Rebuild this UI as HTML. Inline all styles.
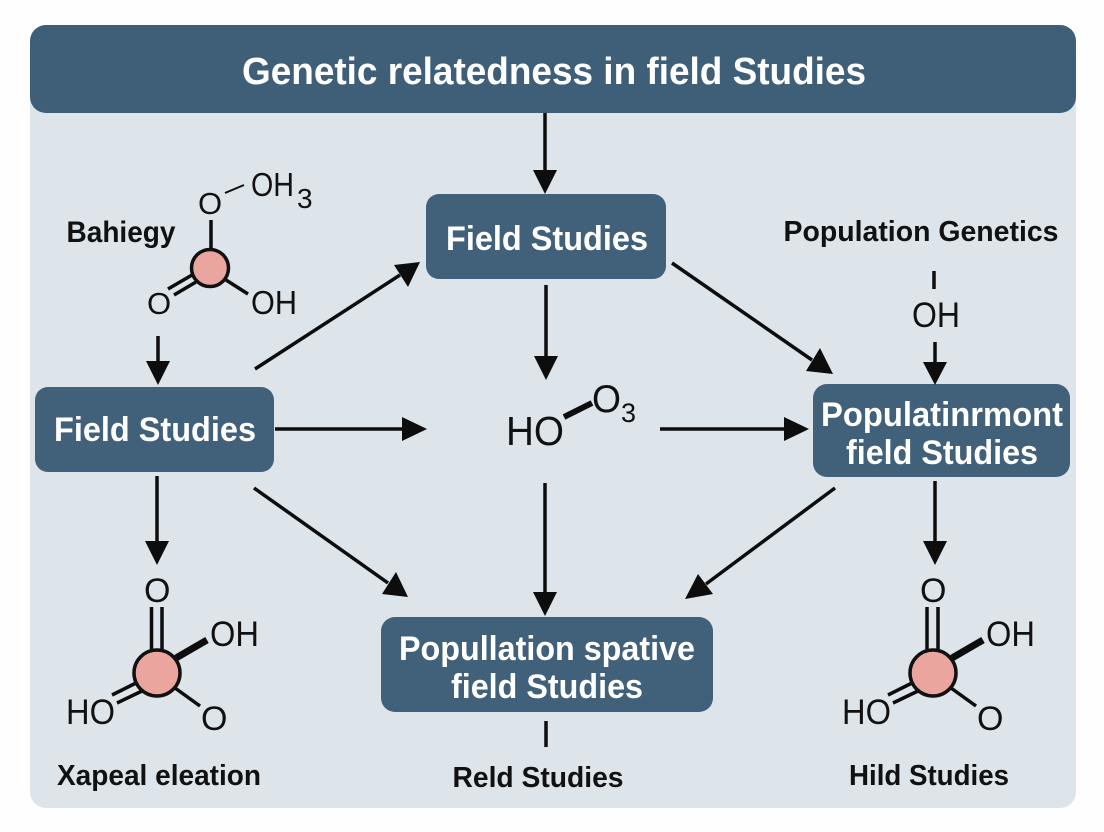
<!DOCTYPE html>
<html><head><meta charset="utf-8"><style>
html,body{margin:0;padding:0;background:#fff}
svg{display:block}
.b{font-family:"Liberation Sans",sans-serif;font-weight:700;text-anchor:middle}
.w{fill:#fff}
.k{fill:#111}
.c{font-family:"Liberation Sans",sans-serif;fill:#111}
.l{stroke:#0d0d0d;stroke-width:3.5;fill:none}
.t{stroke:#0d0d0d;stroke-width:2;fill:none}
.a{fill:#0d0d0d}
.n{fill:#416079}
.p{fill:#eba59f;stroke:#111;stroke-width:3.5}
</style></head><body>
<svg width="1104" height="832" viewBox="0 0 1104 832" xmlns="http://www.w3.org/2000/svg">
<rect width="1104" height="832" fill="#fefefe"/>
<rect x="30" y="25" width="1046" height="783" rx="16" fill="#dde4ea"/>
<rect x="30" y="25" width="1046" height="88" rx="16" fill="#3f5f79"/>
<text class="b w" x="554" y="84" font-size="38" textLength="624" lengthAdjust="spacingAndGlyphs">Genetic relatedness in field Studies</text>

<!-- boxes -->
<rect class="n" x="426" y="194" width="240" height="85" rx="13"/>
<text class="b w" x="547" y="250" font-size="34" textLength="202" lengthAdjust="spacingAndGlyphs">Field Studies</text>
<rect class="n" x="35" y="387" width="239" height="85" rx="13"/>
<text class="b w" x="155" y="441" font-size="34" textLength="202" lengthAdjust="spacingAndGlyphs">Field Studies</text>
<rect class="n" x="813" y="384" width="257" height="93" rx="14"/>
<text class="b w" x="942" y="426" font-size="34" textLength="242" lengthAdjust="spacingAndGlyphs">Populatinrmont</text>
<text class="b w" x="942" y="464" font-size="34" textLength="192" lengthAdjust="spacingAndGlyphs">field Studies</text>
<rect class="n" x="381" y="617" width="332" height="95" rx="14"/>
<text class="b w" x="547" y="660" font-size="34" textLength="296" lengthAdjust="spacingAndGlyphs">Popullation spative</text>
<text class="b w" x="547" y="698" font-size="34" textLength="192" lengthAdjust="spacingAndGlyphs">field Studies</text>

<!-- labels -->
<text class="b k" x="121" y="242" font-size="30" textLength="109" lengthAdjust="spacingAndGlyphs">Bahiegy</text>
<text class="b k" x="921" y="241" font-size="29" textLength="275" lengthAdjust="spacingAndGlyphs">Population Genetics</text>
<text class="b k" x="159" y="785" font-size="29" textLength="204" lengthAdjust="spacingAndGlyphs">Xapeal eleation</text>
<text class="b k" x="538" y="787" font-size="29" textLength="171" lengthAdjust="spacingAndGlyphs">Reld Studies</text>
<text class="b k" x="929" y="785" font-size="29" textLength="160" lengthAdjust="spacingAndGlyphs">Hild Studies</text>

<!-- connectors -->
<g class="l">
<line x1="545" y1="113" x2="545" y2="172"/>
<line x1="255" y1="369" x2="400" y2="275"/>
<line x1="546" y1="285" x2="546" y2="358"/>
<line x1="672" y1="263" x2="812" y2="360"/>
<line x1="158" y1="336" x2="158" y2="364"/>
<line x1="934" y1="271" x2="934" y2="289"/>
<line x1="935" y1="342" x2="935" y2="364"/>
<line x1="275" y1="429" x2="404" y2="429"/>
<line x1="660" y1="429" x2="786" y2="429"/>
<line x1="157" y1="476" x2="157" y2="544"/>
<line x1="254" y1="488" x2="388" y2="583"/>
<line x1="545" y1="483" x2="545" y2="594"/>
<line x1="835" y1="488" x2="706" y2="584"/>
<line x1="935" y1="481" x2="935" y2="544"/>
<line x1="546" y1="721" x2="546" y2="747"/>
</g>
<g class="a">
<polygon points="533,170 557,170 545,194"/>
<polygon points="420,262 394,265 408,287"/>
<polygon points="534,356 558,356 546,380"/>
<polygon points="833,374 806,371 820,348"/>
<polygon points="146,361 170,361 158,385"/>
<polygon points="923,362 947,362 935,385"/>
<polygon points="402,417 402,441 427,429"/>
<polygon points="784,417 784,441 809,429"/>
<polygon points="145,541 169,541 157,565"/>
<polygon points="408,597 382,594 396,572"/>
<polygon points="533,592 557,592 545,616"/>
<polygon points="685,599 698,574 713,594"/>
<polygon points="923,541 947,541 935,565"/>
</g>

<!-- top-left molecule -->
<text class="c" x="198" y="214" font-size="31">O</text>
<text class="c" x="251" y="196" font-size="33" textLength="43" lengthAdjust="spacingAndGlyphs">OH</text>
<text class="c" x="297" y="208" font-size="28">3</text>
<text class="c" x="147" y="314" font-size="31">O</text>
<text class="c" x="251" y="314" font-size="33" textLength="46" lengthAdjust="spacingAndGlyphs">OH</text>
<line class="t" x1="225" y1="193" x2="244" y2="185"/>
<line class="l" x1="211" y1="220" x2="211" y2="250"/>
<line class="l" x1="168" y1="289" x2="192" y2="275"/>
<line class="l" x1="174" y1="295" x2="196" y2="282"/>
<line class="l" x1="226" y1="280" x2="248" y2="294"/>
<circle class="p" cx="210" cy="268" r="18.5"/>

<!-- center molecule -->
<text class="c" x="506" y="445" font-size="41" textLength="58" lengthAdjust="spacingAndGlyphs">HO</text>
<text class="c" x="592" y="412" font-size="39" textLength="29" lengthAdjust="spacingAndGlyphs">O</text>
<text class="c" x="621" y="422" font-size="27">3</text>
<line x1="564" y1="417" x2="592" y2="403" stroke="#0d0d0d" stroke-width="6"/>

<!-- OH -->
<text class="c" x="912" y="327" font-size="35" textLength="48" lengthAdjust="spacingAndGlyphs">OH</text>

<!-- bottom-left molecule -->
<text class="c" x="144" y="602" font-size="34">O</text>
<text class="c" x="210" y="646" font-size="35" textLength="49" lengthAdjust="spacingAndGlyphs">OH</text>
<text class="c" x="66" y="724" font-size="35" textLength="49" lengthAdjust="spacingAndGlyphs">HO</text>
<text class="c" x="201" y="730" font-size="34">O</text>
<line class="l" x1="151.5" y1="607" x2="151.5" y2="652"/>
<line class="l" x1="162" y1="607" x2="162" y2="652"/>
<line x1="176" y1="658" x2="207" y2="640" stroke="#0d0d0d" stroke-width="7"/>
<line class="l" x1="112" y1="695" x2="138" y2="682"/>
<line class="l" x1="117" y1="703" x2="142" y2="691"/>
<line class="l" x1="175" y1="688" x2="200" y2="706"/>
<circle class="p" cx="157" cy="673" r="23"/>

<!-- bottom-right molecule -->
<text class="c" x="920" y="602" font-size="34">O</text>
<text class="c" x="986" y="646" font-size="35" textLength="49" lengthAdjust="spacingAndGlyphs">OH</text>
<text class="c" x="842" y="724" font-size="35" textLength="49" lengthAdjust="spacingAndGlyphs">HO</text>
<text class="c" x="977" y="730" font-size="34">O</text>
<line class="l" x1="927" y1="607" x2="927" y2="652"/>
<line class="l" x1="938" y1="607" x2="938" y2="652"/>
<line x1="952" y1="658" x2="983" y2="640" stroke="#0d0d0d" stroke-width="7"/>
<line class="l" x1="888" y1="695" x2="914" y2="682"/>
<line class="l" x1="893" y1="703" x2="918" y2="691"/>
<line class="l" x1="951" y1="688" x2="976" y2="706"/>
<circle class="p" cx="933" cy="673" r="23"/>
</svg>
</body></html>
